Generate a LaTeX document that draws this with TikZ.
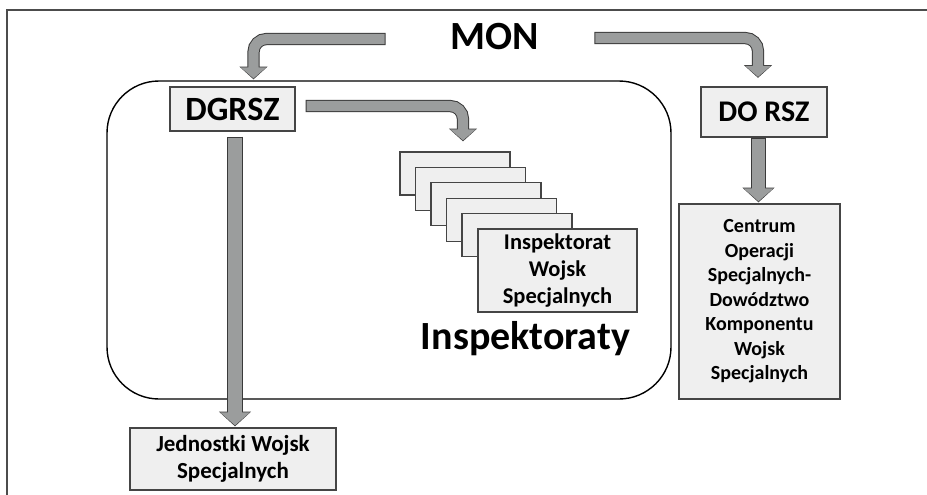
\documentclass[tikz,border=0pt]{standalone}
\usepackage{fontspec}
\setmainfont{Carlito}
\usetikzlibrary{arrows.meta,calc}

\definecolor{arrowfill}{HTML}{9B9D9D}
\definecolor{arrowedge}{HTML}{3A3A3A}
\definecolor{boxfill}{HTML}{EFEFEF}
\definecolor{boxedge}{HTML}{454545}

\tikzset{
  box/.style={draw=boxedge, fill=boxfill, line width=1.3pt, inner sep=0pt, align=center},
  bentarrow/.style={draw=arrowfill, line width=10.2pt, rounded corners=13pt,
    shorten <=1pt, shorten >=1pt, -{Triangle[width=25pt,length=11pt]},
    preaction={draw=arrowedge, line width=12.2pt, shorten <=0pt, shorten >=0pt,
      -{Triangle[width=27.5pt,length=12.8pt]}}},
  downarrow/.style={draw=arrowfill, line width=13.2pt,
    shorten <=1pt, shorten >=1pt, -{Triangle[width=29pt,length=13pt]},
    preaction={draw=arrowedge, line width=15.2pt, shorten <=0pt, shorten >=0pt,
      -{Triangle[width=31.5pt,length=14.8pt]}}},
}

\begin{document}
\begin{tikzpicture}[x=1pt, y=-1pt]
    \useasboundingbox (0,0) rectangle (927,495);

    % frame and the DGRSZ group
    \draw[gray!60!black, line width=1.5pt] (7,495) -- (7,10) -- (927,10);
    \draw[line width=1.4pt, rounded corners=52pt] (107,81) rectangle (671,399);

    \draw (495,36.5) node[inner sep=0pt, font=\fontsize{40}{48}\selectfont\bfseries] (mon) {MON};
    \draw (232.5,109) node[box, minimum width=125pt, minimum height=44pt,
      font=\fontsize{34}{40}\selectfont\bfseries] (dgrsz) {DGRSZ};
    \draw (764,112) node[box, minimum width=126pt, minimum height=50pt,
      font=\fontsize{30}{36}\selectfont\bfseries] (dorsz) {DO RSZ};
    \draw (233,459) node[box, minimum width=206pt, minimum height=62pt,
      font=\fontsize{23}{27}\selectfont\bfseries] (jws) {Jednostki Wojsk\\Specjalnych};
    \draw (759.5,301.5) node[box, minimum width=161pt, minimum height=195pt,
      font=\fontsize{20}{24.5}\selectfont\bfseries] (cos)
      {Centrum\\Operacji\\Specjalnych-\\Dowództwo\\Komponentu\\Wojsk\\Specjalnych};

    % stack of inspectorates
    \foreach \i in {1,...,5}
      \draw (455+15.5*\i-15.5, 173.5+15.4*\i-15.4) node[box, minimum width=110pt, minimum height=43pt] (insp\i) {};
    \draw (557.5,270.5) node[box, minimum width=159pt, minimum height=83pt,
      font=\fontsize{22.5}{27}\selectfont\bfseries] (iws) {Inspektorat\\Wojsk\\Specjalnych};
    \draw (525.5,349) node[anchor=base, inner sep=0pt, font=\fontsize{40}{48}\selectfont\bfseries] (inspt) {Inspektoraty};

    % arrows
    \draw[bentarrow] ($(mon.west)+(-65,2.5)$) -| ($(dgrsz.north)+(21,-7)$);
    \draw[bentarrow] ($(mon.east)+(55,1.5)$) -| ($(dorsz.north)+(-6,-8.5)$);
    \draw[bentarrow] ($(dgrsz.east)+(10,-3)$) -| ($(insp1.north)+(8,-10)$);
    \draw[downarrow] ($(dgrsz.south)+(2.5,5)$) -- ($(jws.north)+(2,-1)$);
    \draw[downarrow] ($(dorsz.south)+(-5.5,0)$) -- ($(cos.north)+(-1,-1)$);
  \end{tikzpicture}
\end{document}
